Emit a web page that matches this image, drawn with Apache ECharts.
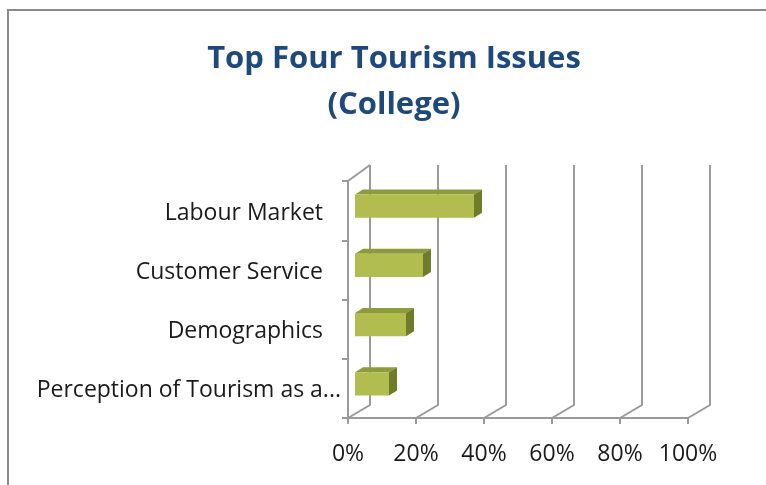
<!DOCTYPE html>
<html>
<head>
<meta charset="utf-8">
<style>
  html, body { margin: 0; padding: 0; background: #fff; }
  #chart { width: 766px; height: 485px; }
</style>
<script src="https://cdn.jsdelivr.net/npm/echarts@6/dist/echarts.min.js"></script>
</head>
<body>
<div id="chart"></div>
<script>
// Issue categories, top to bottom
const categories = ['Labour Market', 'Customer Service', 'Demographics', 'Perception of Tourism as a...'];
// Share of respondents naming each issue (%)
const shares = [35, 20, 15, 10];
// Percentage axis ticks
const xTicks = [0, 20, 40, 60, 80, 100];

const FONT = '"Open Sans", "Noto Sans", sans-serif';
const LABEL_SIZE = 23;
const TEXT_COLOR = '#1a1a1a';
const GRID_COLOR = '#9a9a9a';
// Oblique depth of the plot box (back wall offset) and of each bar
const WALL_DX = 22, WALL_DY = -13, WALL_TOP_DY = -16;
const BAR_DX = 7, BAR_DY = -4.5, BAR_DEPTH_X = 8, BAR_DEPTH_Y = -5;

const chart = echarts.init(document.getElementById('chart'), null, { renderer: 'canvas' });

function wallItem(params, api) {
  const cs = params.coordSys;
  const v = api.value(0);
  const x = api.coord([v, 0])[0];
  const floorY = cs.y + cs.height;
  const topY = cs.y + WALL_TOP_DY;
  const style = { stroke: GRID_COLOR, lineWidth: 2, fill: null };
  const children = [
    { type: 'polyline', shape: { points: [[x, floorY], [x + WALL_DX, floorY + WALL_DY], [x + WALL_DX, topY]] }, style }
  ];
  if (v === xTicks[0]) {
    children.push({ type: 'line', shape: { x1: x, y1: cs.y, x2: x + WALL_DX, y2: topY }, style });
  }
  return { type: 'group', children };
}

function barItem(params, api) {
  const idx = api.value(1);
  const start = api.coord([0, idx]);
  const end = api.coord([api.value(0), idx]);
  const band = api.size([0, 1])[1];
  const h = band * 0.39;
  const xl = start[0] + BAR_DX;
  const xr = end[0] + BAR_DX;
  const yt = start[1] - h / 2 + BAR_DY;
  const yb = yt + h;
  const dx = BAR_DEPTH_X, dy = BAR_DEPTH_Y;
  return {
    type: 'group',
    children: [
      { type: 'polygon', shape: { points: [[xl, yt], [xr, yt], [xr + dx, yt + dy], [xl + dx, yt + dy]] },
        style: { fill: '#8d9b3d' } },
      { type: 'polygon', shape: { points: [[xr, yt], [xr + dx, yt + dy], [xr + dx, yb + dy], [xr, yb]] },
        style: { fill: '#6f7d2a' } },
      { type: 'rect', shape: { x: xl, y: yt, width: xr - xl, height: h },
        style: { fill: '#b2bd4f' } }
    ]
  };
}

const option = {
  animation: false,
  backgroundColor: '#fff',
  title: {
    text: 'Top Four Tourism Issues\n(College)',
    left: 389,
    textAlign: 'center',
    top: 31,
    textStyle: { fontFamily: FONT, fontWeight: 'bold', fontSize: 31, color: '#1f497d', lineHeight: 46 }
  },
  graphic: [
    { type: 'rect', shape: { x: 8, y: 10, width: 800, height: 520 },
      style: { fill: null, stroke: '#8a8a8a', lineWidth: 2 }, silent: true, z: -1 }
  ],
  grid: { left: 348, right: 78, top: 181, bottom: 67 },
  xAxis: {
    type: 'value',
    min: 0, max: 100, interval: 20,
    axisLine: { show: true, lineStyle: { color: GRID_COLOR, width: 2 } },
    axisTick: { show: true, length: 6, lineStyle: { color: GRID_COLOR, width: 2 } },
    splitLine: { show: false },
    axisLabel: { formatter: '{value}%', margin: 25, fontFamily: FONT, fontSize: LABEL_SIZE, color: TEXT_COLOR }
  },
  yAxis: {
    type: 'category',
    inverse: true,
    data: categories,
    axisLine: { show: true, lineStyle: { color: GRID_COLOR, width: 2 } },
    axisTick: { show: true, length: 6, lineStyle: { color: GRID_COLOR, width: 2 } },
    axisLabel: {
      margin: 7,
      fontFamily: FONT, fontSize: LABEL_SIZE, color: TEXT_COLOR,
      formatter: (name) => name.endsWith('...') ? '{t|' + name + '}' : '{n|' + name + '}',
      rich: {
        n: { fontFamily: FONT, fontSize: LABEL_SIZE, color: TEXT_COLOR, padding: [5, 18, 0, 0] },
        t: { fontFamily: FONT, fontSize: LABEL_SIZE, color: TEXT_COLOR, padding: [5, 0, 0, 0] }
      }
    }
  },
  series: [
    {
      type: 'custom',
      renderItem: wallItem,
      data: xTicks.map(v => [v, 0]),
      encode: { x: 0, y: 1 },
      clip: false,
      silent: true,
      z: 1
    },
    {
      type: 'custom',
      renderItem: barItem,
      data: shares.map((v, i) => [v, i]),
      encode: { x: 0, y: 1 },
      clip: false,
      z: 2
    }
  ]
};

chart.setOption(option);
</script>
</body>
</html>
